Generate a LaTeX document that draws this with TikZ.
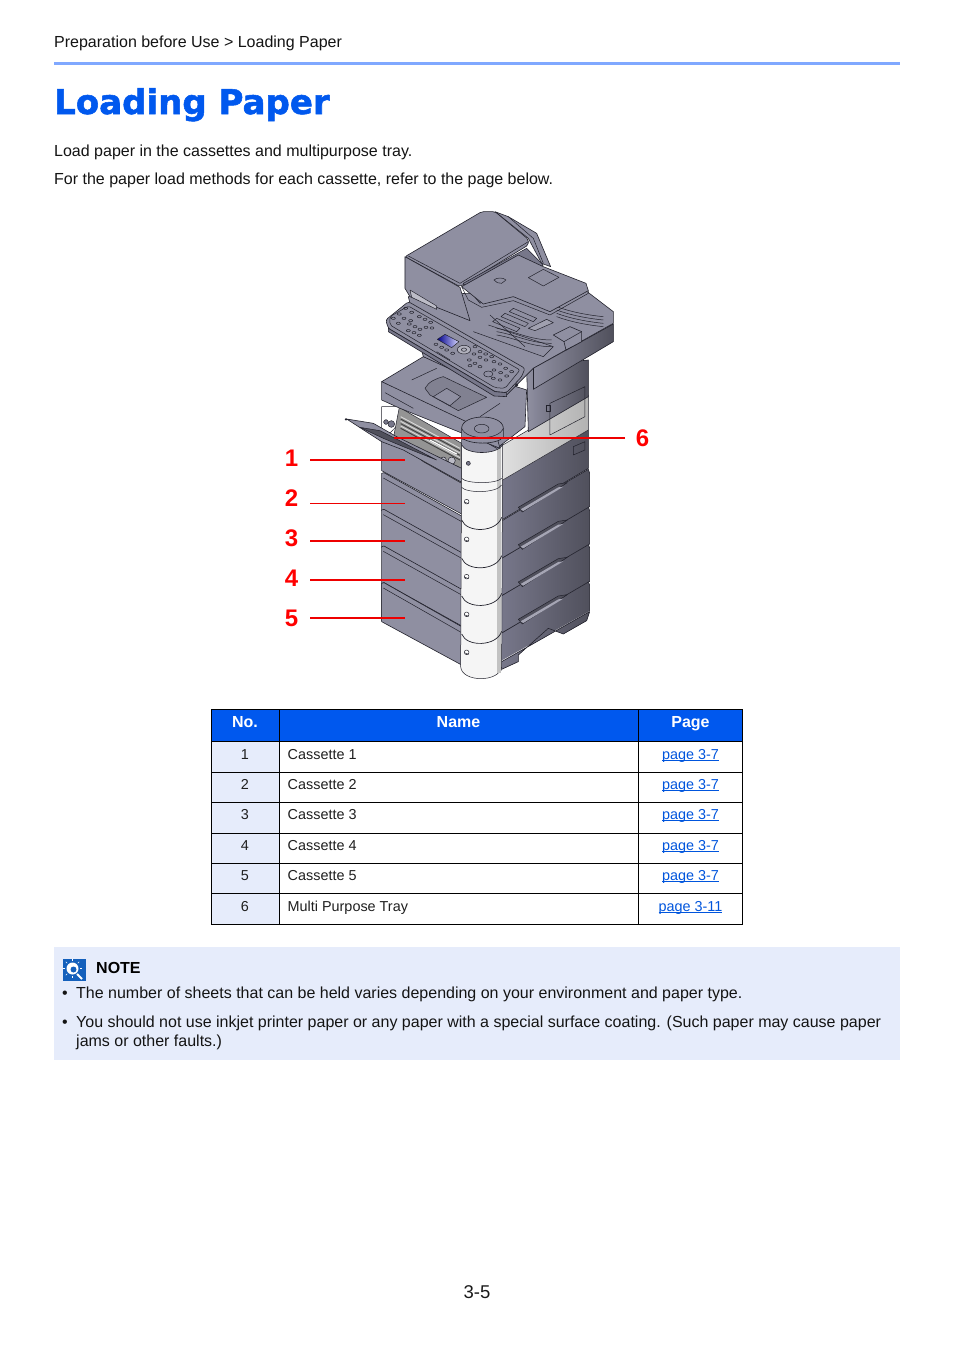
\documentclass[tikz,border=0pt]{standalone}
\usepackage{fontspec}
\setmainfont{Liberation Sans}
\newfontfamily\headfont[BoldFeatures={FakeBold=1.6}]{DejaVu Sans}
\usetikzlibrary{calc}
\definecolor{hblue}{HTML}{0058EE}
\definecolor{rulec}{HTML}{80A8FF}
\definecolor{pale}{HTML}{E6ECFB}
\definecolor{linkb}{HTML}{0055DD}
\definecolor{pgray}{HTML}{8F8FA1}
\definecolor{pdark}{HTML}{77778A}
\definecolor{pdeep}{HTML}{50505C}
\definecolor{pline}{HTML}{22222C}
\definecolor{redl}{HTML}{EE0000}
\definecolor{iconb}{HTML}{1460BC}
\tikzset{
 txt/.style={anchor=base west,inner sep=0pt,font=\fontsize{16}{19}\selectfont,text=black!92},
 cell/.style={anchor=base west,inner sep=0pt,font=\fontsize{14.4}{17}\selectfont,text=black!88},
 cellc/.style={anchor=base,inner sep=0pt,font=\fontsize{14.4}{17}\selectfont,text=black!88},
 headc/.style={anchor=base,inner sep=0pt,font=\bfseries\fontsize{16}{19}\selectfont,text=white},
 linkc/.style={anchor=base,inner sep=0pt,font=\fontsize{14.4}{17}\selectfont,text=linkb},
 num/.style={anchor=center,inner sep=0pt,font=\bfseries\fontsize{24}{28}\selectfont,text=red},
 callout/.style={draw=redl,line width=1.8pt},
 grid/.style={draw=black,line width=1pt},
 pb/.style={draw=pline,line width=.6pt,fill=pgray,line join=round},
 pl/.style={draw=pline,line width=.5pt,line join=round},
 zone/.style={shift={(340,200)},x=0.3333pt,y=-0.3333pt},
 ztwo/.style={shift={(280,410)},x=0.3333pt,y=-0.3333pt},
}
\newcommand{\lnk}[1]{\setbox0\hbox{#1}\rlap{\rule[-1.7pt]{\wd0}{0.9pt}}\box0}
\begin{document}
\begin{tikzpicture}[x=1pt,y=-1pt]
\useasboundingbox (0,0) rectangle (954,1350);
\fill[white] (0,0) rectangle (954,1350);

% header
\node[txt] (crumb) at (54,47) {Preparation before Use > Loading Paper};
\fill[rulec] (54,62) rectangle (900,65);
\node[anchor=base west,inner sep=0pt,font=\headfont\bfseries\fontsize{34}{40}\selectfont,text=hblue] (title) at (54,114) {Loading Paper};
\node[txt] (intro1) at (54,156) {Load paper in the cassettes and multipurpose tray.};
\node[txt] (intro2) at (54,184) {For the paper load methods for each cassette, refer to the page below.};

% ---------- lower part of the printer ----------
\begin{scope}[ztwo]
 % right side, main unit
 \path[pb,left color=pdark,right color=pdeep] (665,210) -- (925,60) -- (925,175) -- (665,330) -- cycle;
 \path[pl,fill=white,left color=white!88!black,right color=white!70!black] (660,110) -- (925,-45) -- (925,60) -- (665,212) -- cycle;
 \draw[pl] (880,110) -- (915,95) -- (915,120) -- (880,135) -- cycle;
 % right side, cassettes
 \foreach \k in {3,2,1,0}{
  \path[pb,left color=pdark,right color=pdeep]
    (665,{333+112*\k}) -- (845,{225+112*\k}) -- (925,{178+112*\k}) -- (929,{190+112*\k}) -- (929,{290+112*\k}) -- (665,{445+112*\k}) -- cycle;
 }
 \foreach \k in {0,1,2,3}{
  \path[pl,fill=pdeep] (715,{292+112*\k}) -- (835,{222+112*\k}) -- (862,{218+112*\k}) -- (727,{306+112*\k}) -- cycle;
  \path[fill=pgray!80] (722,{298+112*\k}) -- (835,{232+112*\k}) -- (850,{230+112*\k}) -- (730,{303+112*\k}) -- cycle;
 }
 % feet
 \fill[white] (665,752) -- (932,602) -- (932,630) -- (665,785) -- cycle;
 \path[pb,left color=pdark,right color=pdeep] (665,755) -- (929,605) -- (920,632) -- (850,672) -- (805,655) -- (715,735) -- (715,755) -- (665,778) -- cycle;

 % left face, cassettes
 \path[pb] (305,60) -- (545,190) -- (545,312) -- (305,182) -- cycle;
 \foreach \k in {0,1,2,3}{
  \path[pb] (305,{190+110*\k}) -- (312,{188+110*\k}) -- (545,{318+110*\k}) -- (545,{432+110*\k}) -- (305,{302+110*\k}) -- cycle;
  \draw[pl] (310,{204+110*\k}) -- (545,{335+110*\k});
 }
 \path[pb] (305,520) -- (312,518) -- (545,650) -- (545,765) -- (305,635) -- cycle;
 \draw[pl] (310,534) -- (545,668);

 % multipurpose tray interior
 \path[pl,fill=white] (305,-10) -- (358,-10) -- (358,40) -- (305,95) -- cycle;
 \path[pl,fill=black!42] (358,-8) -- (545,100) -- (545,220) -- (430,155) -- (340,85) -- cycle;
 \foreach \s in {0,14,28}{\draw[white!85!black,line width=.9pt] (362,{20+\s}) -- (540,{115+\s});}
 \foreach \s in {7,21,35}{\draw[black!75,line width=.9pt] (362,{20+\s}) -- (540,{115+\s});}
 \draw[white,line width=1.2pt] (450,90) -- (530,132);
 \path[pl,fill=pgray!60] (490,150) circle[radius=9];
 \path[pl,fill=pgray!60] (515,152) circle[radius=11];
 \path[pl,fill=pgray!60] (525,178) circle[radius=10];
 % multipurpose tray
 \path[pb] (200,27) -- (280,40) -- (350,80) -- (545,175) -- (545,217) -- (370,120) -- (305,95) -- cycle;
 \path[pl,fill=pdeep] (240,52) -- (300,62) -- (355,90) -- (470,150) -- (370,110) -- (310,85) -- cycle;
 \path[pl,fill=pdark] (318,36) circle[radius=7];
 \path[pl,fill=pdark] (334,42) circle[radius=10];
 \fill[pline] (198,28) circle[radius=4];

 % column
 \path[pl,fill=white!96!black] (545,100) -- (542,770) .. controls (545,818) and (660,818) .. (665,770) -- (668,100) -- cycle;
 \fill[white!76!black] (650,105) rectangle (664,790);
 \foreach \y in {330,445,558,672}{
  \draw[pline,line width=.7pt] (545,\y) .. controls (560,{\y+40}) and (650,{\y+38}) .. (665,{\y-8});
 }
 \draw[pl] (545,205) .. controls (560,222) and (650,222) .. (665,205);
 \draw[pl] (545,232) .. controls (560,250) and (650,250) .. (665,225);
 \foreach \y in {275,388,500,613,727}{
  \draw[pl,fill=white] (560,\y) circle[radius=7];
  \draw[pl] (555,{\y+2}) -- (566,{\y+6});
 }
 \path[pl,fill=pdark] (565,160) circle[radius=6];
 % column cap
 \path[pb] (545,105) -- (545,88) -- (668,88) -- (668,105) .. controls (650,135) and (560,135) .. (545,105) -- cycle;
\end{scope}

% ---------- upper part of the printer ----------
\begin{scope}[zone]
 % right side of body under scanner
 \path[pb,left color=pgray,right color=pdeep] (560,500) -- (745,480) -- (745,590) -- (565,695) -- cycle;
 \draw[pl] (630,610) -- (735,560) -- (735,650) -- (630,705) -- cycle;
 \draw[pl] (620,615) rectangle (630,635);
 % top of lower unit
 \path[pb] (125,545) -- (250,470) -- (560,570) -- (555,680) -- (470,745) -- cycle;
 \path[pb] (125,545) -- (470,708) -- (480,745) -- (180,625) -- (125,600) -- cycle;
 \draw[pl] (135,578) -- (220,625);
 \draw[pl] (215,540) -- (290,505);
 % output recess
 \path[pl,fill=pgray!90!black] (255,565) .. controls (265,545) and (290,535) .. (310,530) -- (440,592) -- (355,632) -- (270,585) -- cycle;
 \path[pl,fill=pgray] (280,590) -- (320,565) -- (362,590) -- (330,617) -- cycle;
 \draw[pl] (420,650) -- (480,610);
 % cap disc
 \path[pb,fill=pgray] (365,685) .. controls (365,640) and (490,640) .. (490,685) -- (490,712) .. controls (470,735) and (385,735) .. (365,712) -- cycle;
 \draw[pl] (365,685) .. controls (380,722) and (475,722) .. (490,685);
 \path[pl] (425,686) ellipse[x radius=22,y radius=13];
 % scanner base
 \path[pb] (205,290) -- (380,280) -- (735,270) -- (820,335) -- (820,370) -- (580,505) -- (500,585) -- (250,470) -- cycle;
 \path[pb,left color=pgray,right color=pdeep] (580,505) -- (820,372) -- (820,425) -- (580,568) -- cycle;
 \draw[pl] (580,505) -- (580,568);
 % exit tray ribs
 \draw[pl] (445,375) -- (640,440) -- (610,470) -- (400,395);
 \foreach \a/\b in {470/355,495/340,520/325}{
  \draw[pl] (\a,\b) -- ({\a+70},{\b+30}) -- ({\a+60},{\b+40}) -- ({\a-12},{\b+10}) -- cycle;
 }
 \foreach \s in {0,10,20}{\draw[pl] (470,{385+\s}) .. controls (530,{395+\s}) and (570,{420+\s}) .. (635,{420+\s});}
 \foreach \s in {0,10,20,30}{\draw[pl] (650,{320+\s}) .. controls (690,{335+\s}) and (740,{345+\s}) .. (790,{350+\s});}
 \path[pl,fill=pgray!85] (565,385) -- (620,358) -- (640,368) -- (585,392) -- cycle;
 \path[pb] (640,405) -- (690,380) -- (725,395) -- (725,425) -- (678,450) -- (672,425) -- cycle;
 \draw[pl] (672,425) -- (725,395);
 % ADF hinge
 \path[pb] (465,35) -- (505,50) -- (590,100) -- (632,200) -- (605,190) -- (565,115) -- cycle;
 \draw[pl] (505,50) -- (580,115) -- (610,190);
 % ADF body
 \path[pb,rounded corners=2pt] (195,170) -- (425,35) -- (465,35) -- (565,118) -- (565,135) -- (360,260) -- cycle;
 \path[pb] (195,170) -- (360,262) -- (390,362) -- (210,290) -- (195,265) -- cycle;
 \draw[pl] (205,168) -- (360,250) -- (565,125);
 \path[pl,fill=pdark] (370,250) -- (560,145) -- (610,195) -- (420,310) -- cycle;
 \draw[pl] (375,260) -- (530,170);
 \draw[pl] (385,250) -- (530,178);
 \path[pl,fill=pgray!60] (210,270) -- (290,318) -- (290,328) -- (215,292) -- cycle;
 % document tray
 \path[pb] (365,260) -- (535,165) -- (610,200) -- (738,250) -- (745,272) -- (630,335) -- (520,290) -- (430,312) -- cycle;
 \draw[pl] (385,300) -- (365,260);
 \draw[pl] (385,300) -- (425,322) -- (520,302) -- (630,345) -- (745,280) -- (745,272);
 \path[pl] (565,233) -- (610,208) -- (657,232) -- (610,258) -- cycle;
 \path[pl] (462,240) .. controls (470,232) and (490,232) .. (498,240) -- (485,250) -- (472,248) -- cycle;
 % control panel
 \path[pb,rounded corners=2.5pt] (137,360) -- (205,305) -- (555,505) -- (545,530) -- (500,578) -- (465,575) -- (145,385) -- cycle;
 \path[pb,fill=pdark] (145,385) -- (465,575) -- (500,578) -- (500,590) -- (462,588) -- (145,395) -- cycle;
 \draw[pl,rounded corners=2pt] (150,350) -- (205,318) -- (540,510) -- (495,565) -- (465,563) -- (150,375) -- cycle;
 \path[pl,left color=blue!55!black,right color=blue!15!white] (292,418) -- (315,403) -- (357,425) -- (335,443) -- cycle;
 \foreach \x/\y in {160/355,178/342,197/325,215/337,192/355,212/362,175/370,238/350,255/358,272/367,208/372,225/380,240/388,258/382,276/384,205/392,222/398,238/406,288/433,305/442,320/450,338/460,405/440,420/455,437/462,455/470,402/462,420/472,438/480,388/480,405/490,420/500,462/485,480/492,497/505,515/515,390/497,462/510,482/518,500/528,460/535,480/540}{
  \path[pl] (\x,\y) ellipse[x radius=6,y radius=3.5];
 }
 \path[pl,fill=pgray!70] (372,449) ellipse[x radius=20,y radius=13];
 \path[pl] (372,449) ellipse[x radius=8,y radius=5];
 \path[pl] (445,522) ellipse[x radius=14,y radius=9];
 \draw[pl] (290,455) -- (330,480);
 \draw[pl] (450,345) -- (555,440);
 \fill[pline] (530,555) circle[radius=5];
\end{scope}

% callouts
\node[num] (n1) at (291.5,458) {1};
\node[num] (n2) at (291.5,498) {2};
\node[num] (n3) at (291.5,538) {3};
\node[num] (n4) at (291.5,578) {4};
\node[num] (n5) at (291.5,618) {5};
\node[num] (n6) at (642.5,438) {6};
\coordinate (a1) at (310,460); \coordinate (c1) at (405,460);
\coordinate (a2) at (310,503); \coordinate (c2) at (405,503);
\coordinate (a3) at (310,541); \coordinate (c3) at (405,541);
\coordinate (a4) at (310,580); \coordinate (c4) at (405,580);
\coordinate (a5) at (310,618); \coordinate (c5) at (405,618);
\coordinate (a6) at (625,438); \coordinate (c6) at (394,438);
\draw[callout] (a1) -- (c1);
\draw[callout,line width=.8pt] (a2) -- (c2);
\draw[callout] (a3) -- (c3);
\draw[callout] (a4) -- (c4);
\draw[callout] (a5) -- (c5);
\draw[callout] (a6) -- (c6);

% table
\fill[hblue] (211.5,709.5) rectangle (742.5,741.5);
\fill[pale] (211.5,741.5) rectangle (279.5,924.5);
\foreach \y in {709.5,741.5,772.5,802.5,833.5,863.5,893.5,924.5}{\draw[grid] (211,\y) -- (743,\y);}
\foreach \x in {211.5,279.5,638.5,742.5}{\draw[grid] (\x,709.5) -- (\x,924.5);}
\node[headc] (hno) at (245,727) {No.};
\node[headc] (hname) at (458.5,727) {Name};
\node[headc] (hpage) at (690.5,727) {Page};
\node[cellc] (r1a) at (245,759) {1};
\node[cell] (r1b) at (287.5,759) {Cassette 1};
\node[linkc] (r1c) at (690.5,759) {\lnk{page 3-7}};
\node[cellc] (r2a) at (245,789) {2};
\node[cell] (r2b) at (287.5,789) {Cassette 2};
\node[linkc] (r2c) at (690.5,789) {\lnk{page 3-7}};
\node[cellc] (r3a) at (245,819) {3};
\node[cell] (r3b) at (287.5,819) {Cassette 3};
\node[linkc] (r3c) at (690.5,819) {\lnk{page 3-7}};
\node[cellc] (r4a) at (245,850) {4};
\node[cell] (r4b) at (287.5,850) {Cassette 4};
\node[linkc] (r4c) at (690.5,850) {\lnk{page 3-7}};
\node[cellc] (r5a) at (245,880) {5};
\node[cell] (r5b) at (287.5,880) {Cassette 5};
\node[linkc] (r5c) at (690.5,880) {\lnk{page 3-7}};
\node[cellc] (r6a) at (245,911) {6};
\node[cell] (r6b) at (287.5,911) {Multi Purpose Tray};
\node[linkc] (r6c) at (690.5,911) {\lnk{page 3-11}};

% note
\fill[pale] (54,947) rectangle (900,1060);
\fill[iconb] (63,959) rectangle (86,981);
\fill[white] (72.5,968.5) circle[radius=6];
\fill[iconb] (73.5,969.5) circle[radius=3];
\draw[white,line width=2pt] (77,974) -- (82,979);
\foreach \a in {0,45,...,315}{\draw[white,line width=.6pt] ($(72.5,968.5)+(\a:7.5)$) -- ($(72.5,968.5)+(\a:9.5)$);}
\node[anchor=base west,inner sep=0pt,font=\bfseries\fontsize{16}{19}\selectfont,text=black] (notehead) at (96,973) {NOTE};
\node[txt] (b1) at (62,998) {•};
\node[txt] (l1) at (76,998) {The number of sheets that can be held varies depending on your environment and paper type.};
\node[txt] (b2) at (62,1027) {•};
\node[txt] (l2) at (76,1027) {You should not use inkjet printer paper or any paper with a special surface coating. (Such paper may cause paper};
\node[txt] (l3) at (76,1046) {jams or other faults.)};

% footer
\node[anchor=base,inner sep=0pt,font=\fontsize{18.5}{22}\selectfont,text=black!90] (pageno) at (477,1298) {3-5};
\end{tikzpicture}
\end{document}
